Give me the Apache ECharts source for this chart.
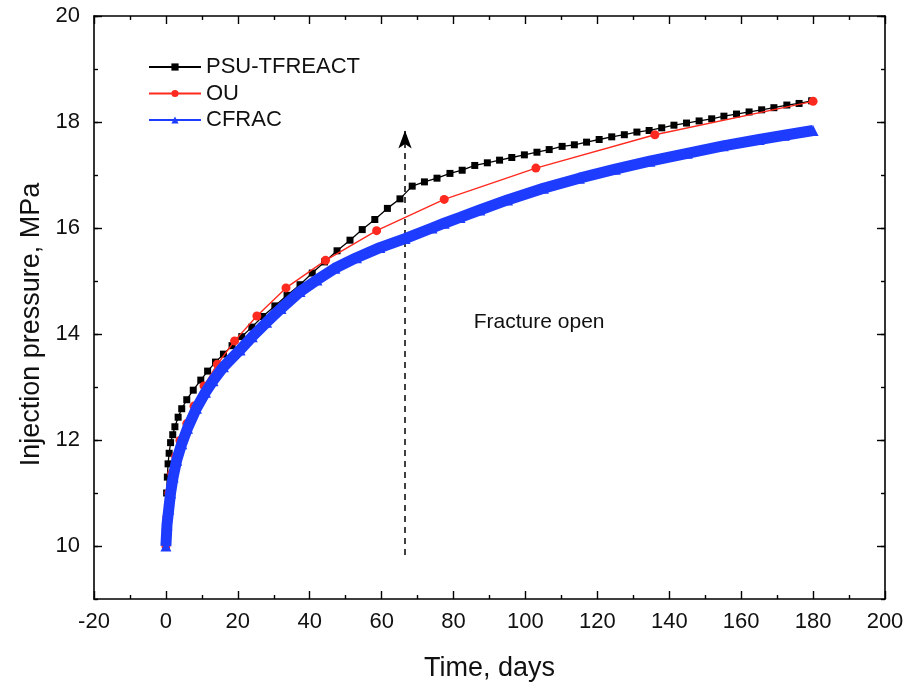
<!DOCTYPE html>
<html>
<head>
<meta charset="utf-8">
<title>Injection pressure vs time</title>
<script src="https://cdn.jsdelivr.net/npm/echarts@6/dist/echarts.min.js"></script>
<style>
  html, body { margin: 0; padding: 0; background: #fff; }
  #chart { width: 910px; height: 689px; }
</style>
</head>
<body>
<div id="chart"></div>
<script>
// Injection pressure (MPa) against time (days) for three simulators.
const psuTfreact = [
  [0, 10.0], [0.1, 10.5], [0.2, 11.0], [0.4, 11.3], [0.6, 11.55], [0.9, 11.75],
  [1.3, 11.95], [1.9, 12.1], [2.5, 12.25], [3.4, 12.43], [4.4, 12.59], [5.8, 12.76],
  [7.6, 12.94], [9.7, 13.13], [11.6, 13.3], [13.8, 13.47], [16.0, 13.62], [18.4, 13.78],
  [21.1, 13.95], [23.9, 14.13], [26.9, 14.33], [30.3, 14.53], [33.7, 14.73], [37.3, 14.93],
  [40.7, 15.15], [44.1, 15.36], [47.6, 15.57], [51.2, 15.77], [54.6, 15.97], [58.1, 16.16],
  [61.6, 16.37], [65.1, 16.55], [68.5, 16.79], [71.9, 16.87], [75.4, 16.94], [79.0, 17.03],
  [82.4, 17.09], [85.9, 17.18], [89.4, 17.23], [92.8, 17.28], [96.2, 17.33], [99.7, 17.38],
  [103.2, 17.43], [106.6, 17.48], [110.2, 17.54], [113.6, 17.57], [117.0, 17.62], [120.5, 17.67],
  [124.0, 17.72], [127.5, 17.76], [131.0, 17.81], [134.4, 17.84], [137.9, 17.89], [141.3, 17.94],
  [144.8, 17.98], [148.3, 18.02], [151.8, 18.06], [155.2, 18.11], [158.7, 18.15], [162.2, 18.19],
  [165.7, 18.23], [169.1, 18.27], [172.7, 18.32], [176.1, 18.35], [179.6, 18.40]
];

const ou = [
  [0, 10.0], [0.3, 10.55], [0.8, 11.0], [1.6, 11.37], [2.7, 11.69], [3.9, 11.99],
  [5.8, 12.31], [7.8, 12.64], [10.6, 13.02], [14.3, 13.43], [19.1, 13.87], [25.3, 14.34],
  [33.4, 14.87], [44.4, 15.39], [58.6, 15.95], [77.4, 16.54], [102.9, 17.13], [136.0, 17.76],
  [180.0, 18.39]
];

const cfrac = [
  [0, 10.0], [0.3, 10.4], [0.8, 10.7], [1.3, 11.0], [2.0, 11.3], [3.0, 11.62],
  [4.4, 11.93], [6.0, 12.22], [8.5, 12.6], [11.0, 12.9], [13.1, 13.12], [16.0, 13.38],
  [20.6, 13.7], [24.0, 13.95], [28.0, 14.22], [32.0, 14.48], [37.3, 14.8], [42.0, 15.02],
  [47.0, 15.24], [53.0, 15.44], [59.5, 15.63], [66.5, 15.8], [74.0, 16.0], [77.4, 16.09],
  [81.8, 16.2], [87.3, 16.34], [95.0, 16.53], [105.0, 16.75], [115.0, 16.94], [125.0, 17.11],
  [134.6, 17.26], [145.0, 17.41], [155.0, 17.55], [165.0, 17.67], [172.0, 17.75], [180.0, 17.84]
];

// Fracture-opening marker (days) and the pressure span of its arrow.
const fractureDay = 66.5;
const arrowFrom = 9.83;
const arrowTo = 17.84;
const noteAt = [103.8, 14.22];
const noteText = 'Fracture open';

const xTicks = { min: -20, max: 200, step: 20 };
const yMajor = [10, 12, 14, 16, 18, 20];
const yRange = { min: 9, max: 20 };

const FONT = '"Liberation Sans", Arial, Helvetica, sans-serif';
const INK = '#000';

const chart = echarts.init(document.getElementById('chart'), null, { renderer: 'canvas' });

function xAxisDef(pos, withLabels) {
  return {
    type: 'value', position: pos,
    min: xTicks.min, max: xTicks.max, interval: xTicks.step,
    axisLine: { show: true, onZero: false, lineStyle: { color: INK, width: 1.6 } },
    axisTick: { show: true, inside: true, length: 8, lineStyle: { color: INK, width: 1.4 } },
    minorTick: { show: true, splitNumber: 2, length: 4, lineStyle: { color: INK, width: 1.4 } },
    splitLine: { show: false },
    axisLabel: withLabels
      ? { show: true, fontFamily: FONT, fontSize: 22, color: '#111', margin: 12 }
      : { show: false },
    name: withLabels ? 'Time, days' : '',
    nameLocation: 'middle', nameGap: 56,
    nameTextStyle: { fontFamily: FONT, fontSize: 27, color: '#111' }
  };
}

function yAxisMajor(pos, withLabels) {
  return {
    type: 'value', position: pos,
    min: yRange.min, max: yRange.max, interval: 1,
    axisLine: { show: true, onZero: false, lineStyle: { color: INK, width: 1.6 } },
    axisTick: { show: true, inside: true, length: 8, customValues: yMajor, lineStyle: { color: INK, width: 1.4 } },
    splitLine: { show: false },
    axisLabel: withLabels
      ? { show: true, customValues: yMajor, fontFamily: FONT, fontSize: 22, color: '#111', margin: 14 }
      : { show: false },
    name: withLabels ? 'Injection pressure, MPa' : '',
    nameLocation: 'middle', nameGap: 46, nameRotate: 90,
    nameTextStyle: { fontFamily: FONT, fontSize: 27, color: '#111', padding: [0, 34, 0, 0] }
  };
}

function yAxisMinor(pos) {
  return {
    type: 'value', position: pos,
    min: yRange.min, max: yRange.max, interval: 1,
    axisLine: { show: false, onZero: false },
    axisTick: { show: true, inside: true, length: 4, lineStyle: { color: INK, width: 1.4 } },
    splitLine: { show: false },
    axisLabel: { show: false }
  };
}

chart.setOption({
  backgroundColor: '#fff',
  animation: false,
  grid: { left: 94, right: 25, top: 16, bottom: 90, containLabel: false },
  legend: {
    orient: 'vertical', left: 143, top: 51,
    itemWidth: 52, itemHeight: 9, itemGap: 4.5,
    textStyle: { fontFamily: FONT, fontSize: 22, color: '#111', lineHeight: 21 },
    data: ['PSU-TFREACT', 'OU', 'CFRAC']
  },
  xAxis: [xAxisDef('bottom', true), xAxisDef('top', false)],
  yAxis: [yAxisMajor('left', true), yAxisMinor('left'), yAxisMajor('right', false), yAxisMinor('right')],
  series: [
    {
      name: 'PSU-TFREACT', type: 'line', data: psuTfreact,
      symbol: 'rect', symbolSize: 7, showAllSymbol: true,
      itemStyle: { color: '#000' }, lineStyle: { color: '#000', width: 1.3 }, z: 3
    },
    {
      name: 'OU', type: 'line', data: ou,
      symbol: 'circle', symbolSize: 9, showAllSymbol: true,
      itemStyle: { color: '#ff2a1f' }, lineStyle: { color: '#ff2a1f', width: 1.4 }, z: 4
    },
    {
      name: 'CFRAC', type: 'line', data: cfrac,
      symbol: 'triangle', symbolSize: 11, showAllSymbol: true,
      itemStyle: { color: '#1e3cff' }, lineStyle: { color: '#1e3cff', width: 11 }, z: 5,
      markLine: {
        silent: true, symbol: ['none', 'arrow'], symbolSize: [10, 18],
        label: { show: false },
        lineStyle: { color: '#000', type: [6, 5], width: 1.5 },
        data: [[{ coord: [fractureDay, arrowFrom] }, { coord: [fractureDay, arrowTo] }]]
      },
      markPoint: {
        silent: true, symbol: 'circle', symbolSize: 0,
        label: { show: true, position: 'inside', formatter: noteText, fontFamily: FONT, fontSize: 21, color: '#111' },
        data: [{ coord: noteAt }]
      }
    }
  ]
});
</script>
</body>
</html>
